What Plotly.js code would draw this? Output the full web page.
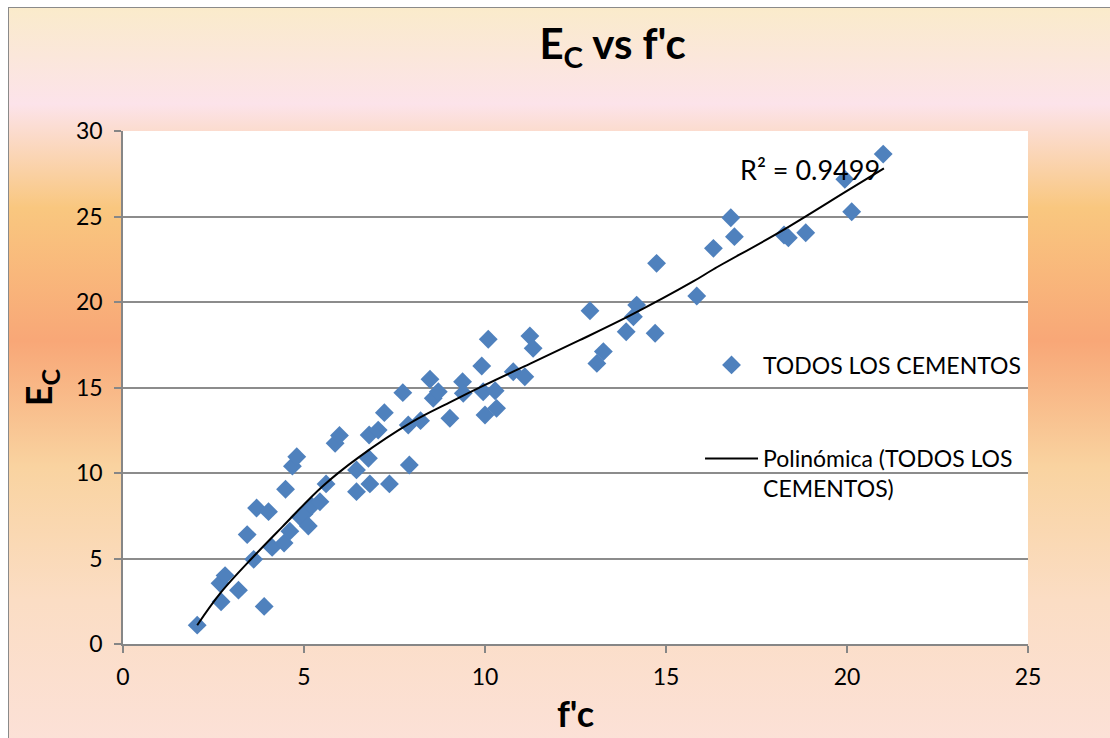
<!DOCTYPE html>
<html>
<head>
<meta charset="utf-8">
<script src="https://cdn.plot.ly/plotly-3.0.1.min.js"></script>
<style>
  html, body { margin: 0; padding: 0; background: #ffffff; }
  #wrap { position: relative; width: 1110px; height: 738px; overflow: hidden; }
  #frame {
    position: absolute; left: 8px; top: 7px; width: 1110px; height: 740px;
    border-left: 1px solid #8a8a8a; border-top: 1px solid #8a8a8a;
    background: linear-gradient(to bottom,
      #FAEBCB 0%, #FCE3EA 13%, #F9C77F 27%, #F8A777 45%, #F9D3A0 62%, #FBDDC4 80%, #FCE1D8 100%);
  }
  #chart { position: absolute; left: 0; top: 0; width: 1110px; height: 738px; }
</style>
</head>
<body>
<div id="wrap">
  <div id="frame"></div>
  <div id="chart"></div>
</div>
<script>
// f'c values (x) and Ec values (y)
const fc = [
  2.05, 2.71, 2.68, 2.82, 3.19, 3.43, 3.61, 3.69, 3.90, 4.02, 4.12,
  4.45, 4.49, 4.61, 4.68, 4.80, 4.89, 5.00, 5.12, 5.21, 5.44, 5.61, 5.86, 5.98,
  6.45, 6.45, 6.78, 6.82, 6.80, 7.05, 7.22, 7.36, 7.73, 7.88, 7.91,
  8.22, 8.48, 8.57, 8.71, 9.03, 9.38, 9.40, 9.91, 9.95, 10.00, 10.09,
  10.28, 10.32, 10.78, 11.10, 11.24, 11.33,
  12.90, 13.09, 13.27, 13.90, 14.10, 14.19, 14.70, 14.74, 15.85,
  16.31, 16.79, 16.89, 18.26, 18.38, 18.86, 19.94, 20.13, 21.00
];
const ec = [
  1.10, 2.47, 3.55, 4.00, 3.15, 6.40, 4.95, 7.95, 2.20, 7.74, 5.65,
  5.90, 9.05, 6.60, 10.40, 10.95, 7.44, 7.60, 6.90, 8.07, 8.32, 9.36, 11.74, 12.20,
  10.18, 8.91, 10.86, 9.36, 12.22, 12.51, 13.53, 9.36, 14.70, 12.81, 10.47,
  13.06, 15.48, 14.37, 14.75, 13.20, 15.34, 14.66, 16.26, 14.75, 13.39, 17.82,
  14.81, 13.78, 15.92, 15.63, 18.01, 17.29,
  19.49, 16.41, 17.10, 18.26, 19.14, 19.82, 18.17, 22.26, 20.35,
  23.14, 24.93, 23.82, 23.92, 23.76, 24.05, 27.18, 25.28, 28.65
];
// polynomial trend line
const trendX = [2.05, 2.7, 3.6, 4.4, 5.5, 6.5, 8.0, 9.0, 10.0, 11.25, 12.6, 14.0, 15.75, 16.3, 18.15, 20.0, 21.02];
const trendY = [1.10, 3.0, 5.1, 6.85, 9.2, 10.9, 13.0, 14.1, 15.15, 16.4, 17.75, 19.2, 21.2, 21.9, 24.1, 26.5, 27.82];

const xTicks = [0, 5, 10, 15, 20, 25];
const yTicks = [0, 5, 10, 15, 20, 25, 30];
const seriesName = "TODOS LOS CEMENTOS";
const trendName = "Polinómica (TODOS LOS<br>CEMENTOS)";
const r2Label = "R² = 0.9499";

const FONT = "Lato, 'DejaVu Sans', sans-serif";

const traces = [
  {
    x: fc, y: ec, type: "scatter", mode: "markers", name: seriesName,
    marker: { symbol: "diamond", size: 14.5, color: "#4F81BD", line: { width: 0 } },
    legend: "legend"
  },
  {
    x: trendX, y: trendY, type: "scatter", mode: "lines", name: trendName,
    line: { color: "#000000", width: 2, shape: "spline", smoothing: 1 },
    legend: "legend2"
  }
];

const axisCommon = {
  showline: true, linecolor: "#868686", linewidth: 1.5,
  ticks: "outside", ticklen: 7, tickcolor: "#868686", tickwidth: 1.5,
  tickfont: { family: FONT, size: 23, color: "#000" },
  zeroline: false, fixedrange: true
};

const layout = {
  width: 1110, height: 738,
  margin: { l: 123, r: 82, t: 131, b: 94 },
  paper_bgcolor: "rgba(0,0,0,0)",
  plot_bgcolor: "#ffffff",
  font: { family: FONT, color: "#000" },
  title: {
    text: "<b>E<sub>C</sub> vs f'c</b>",
    font: { family: FONT, size: 42, color: "#000" },
    x: 0.541, xanchor: "center", y: 0.94, yanchor: "middle", xref: "paper", yref: "container"
  },
  xaxis: Object.assign({}, axisCommon, {
    range: [0, 25], tickvals: xTicks, ticktext: xTicks.map(String),
    showgrid: false, ticklabelstandoff: 5,
    title: { text: "<b>f'c</b>", font: { family: FONT, size: 36, color: "#000" }, standoff: 12 }
  }),
  yaxis: Object.assign({}, axisCommon, {
    range: [0, 30], tickvals: yTicks, ticktext: yTicks.map(String),
    showgrid: true, gridcolor: "#8c8c8c", gridwidth: 1.5, ticklabelstandoff: 7,
    title: { text: "<b>E<sub>C</sub></b>", font: { family: FONT, size: 36, color: "#000" }, standoff: 12 }
  }),
  showlegend: true,
  legend: {
    x: 0.6376, xanchor: "left", y: 0.5439, yanchor: "middle",
    bgcolor: "rgba(0,0,0,0)", borderwidth: 0,
    font: { family: FONT, size: 23, color: "#000" }, itemwidth: 53
  },
  legend2: {
    x: 0.6376, xanchor: "left", y: 0.3324, yanchor: "middle", valign: "top",
    bgcolor: "rgba(0,0,0,0)", borderwidth: 0,
    font: { family: FONT, size: 23, color: "#000" }, itemwidth: 53
  },
  annotations: [
    {
      x: 16.99, y: 27.75, xref: "x", yref: "y", text: r2Label, showarrow: false,
      xanchor: "left", yanchor: "middle",
      font: { family: FONT, size: 27, color: "#000" }
    }
  ]
};

Plotly.newPlot("chart", traces, layout, { displayModeBar: false, responsive: false });
</script>
</body>
</html>
